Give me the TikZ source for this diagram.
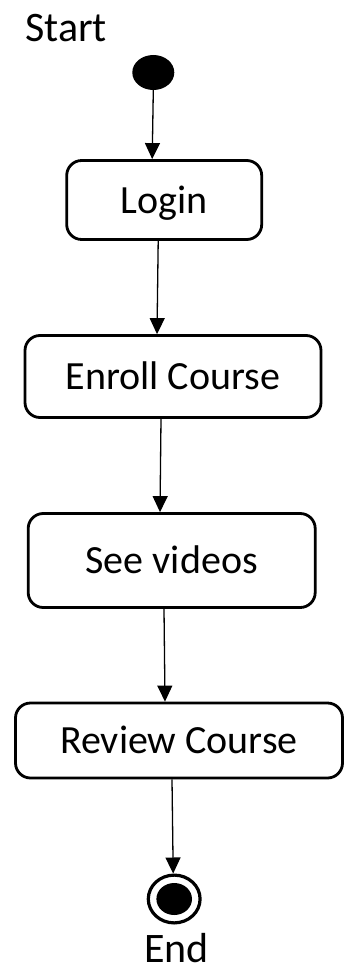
\documentclass[tikz,border=0pt]{standalone}
\usepackage{fontspec}
\setmainfont{Carlito}
\usetikzlibrary{arrows.meta,shapes.geometric}
\tikzset{
  actbox/.style={draw,line width=2.8pt,rounded corners=15pt,inner sep=0pt,text height=29pt,text depth=3pt,font=\fontsize{40}{48}\selectfont},
  flow/.style={line width=1.3pt,-{Triangle[length=16pt,width=15pt]}},
  caption/.style={inner sep=0pt,font=\fontsize{42}{50}\selectfont},
}

\begin{document}
\begin{tikzpicture}[x=1pt,y=-1pt]
\useasboundingbox (0,0) rectangle (344,971);
\node[caption,anchor=base west] (startlabel) at (25,42) {Start}; % Start label
\node[ellipse,fill=black,inner sep=0pt,minimum width=42pt,minimum height=35pt] (start) at (153.3,72.5) {}; % initial state
\node[actbox,minimum width=195pt,minimum height=79pt] (login) at (164.2,200) {Login}; % activity 1
\node[actbox,minimum width=296pt,minimum height=82pt] (enroll) at (173,376.5) {Enroll Course}; % activity 2
\node[actbox,minimum width=287pt,minimum height=94pt] (videos) at (171.7,560.5) {See videos}; % activity 3
\node[actbox,minimum width=327pt,minimum height=75pt] (review) at (179,740.5) {Review Course}; % activity 4
\node[ellipse,draw,line width=3.2pt,inner sep=0pt,minimum width=51.8pt,minimum height=47.8pt] (finish) at (174.2,899) {}; % final state
\fill (finish.center) ellipse (17.8pt and 16pt); % final state dot
\node[caption,anchor=base] (endlabel) at (176.5,962) {End}; % End label

\draw[flow] (start.south) -- ([xshift=-12pt]login.north);
\draw[flow] ([xshift=-6pt]login.south) -- ([xshift=-16pt]enroll.north);
\draw[flow] ([xshift=-12pt]enroll.south) -- ([xshift=-11.7pt]videos.north);
\draw[flow] ([xshift=-7.7pt]videos.south) -- ([xshift=-14pt]review.north);
\draw[flow] ([xshift=-7pt]review.south) -- ([xshift=-1pt]finish.north);
\end{tikzpicture}
\end{document}
